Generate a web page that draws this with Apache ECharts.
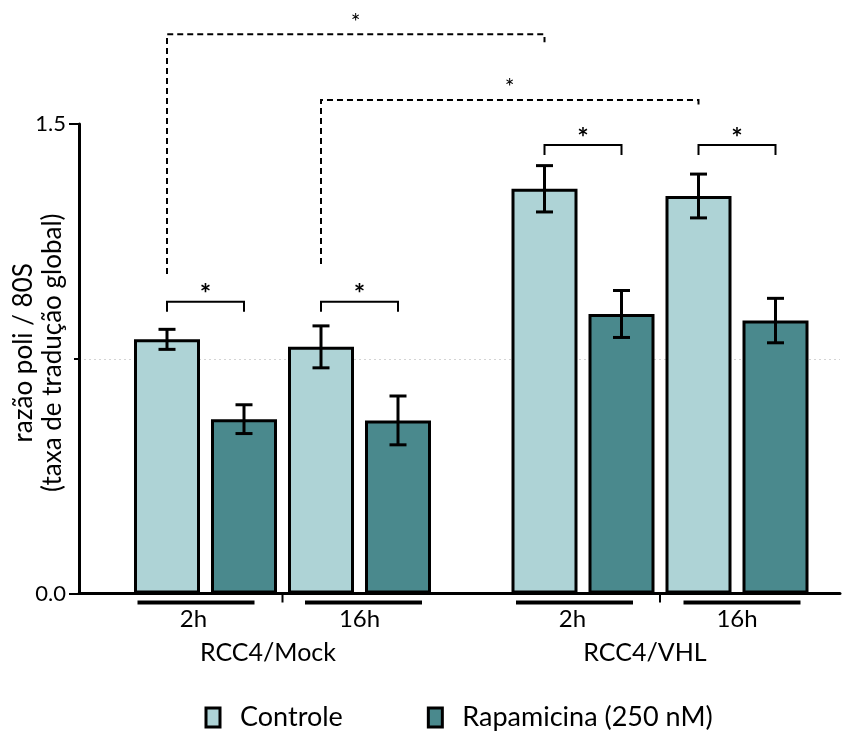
<!DOCTYPE html>
<html>
<head>
<meta charset="utf-8">
<script src="https://cdn.jsdelivr.net/npm/echarts@6/dist/echarts.min.js"></script>
<style>
  html, body { margin: 0; padding: 0; background: #fff; }
  #chart { width: 856px; height: 733px; }
</style>
</head>
<body>
<div id="chart"></div>
<script>
// ---- data ----
const cellLines = ['RCC4/Mock', 'RCC4/VHL'];
const timePoints = ['2h', '16h'];
const seriesNames = ['Controle', 'Rapamicina (250 nM)'];

// mean polysome / 80S ratio (per time point)
const controleMock = [0.812, 0.788];
const rapaMock = [0.557, 0.553];
const controleVHL = [1.293, 1.270];
const rapaVHL = [0.893, 0.872];

// error bars (per time point)
const controleMockErr = [0.032, 0.067];
const rapaMockErr = [0.046, 0.078];
const controleVHLErr = [0.074, 0.070];
const rapaVHLErr = [0.075, 0.071];

// y axis
const yMin = 0;
const yMax = 1.5;
const yStep = 1.5;

// significance: Controle vs Rapamicina within each time point
const pairTests = [
  { line: 0, time: 0, level: 0.932, mark: '*' },
  { line: 0, time: 1, level: 0.932, mark: '*' },
  { line: 1, time: 0, level: 1.433, mark: '*' },
  { line: 1, time: 1, level: 1.433, mark: '*' }
];
// significance: Controle Mock vs Controle VHL (same time point)
const crossTests = [
  { time: 0, level: 1.787, start: 1.021, mark: '*' },
  { time: 1, level: 1.577, start: 1.053, mark: '*' }
];

// ---- style ----
const FONT = 'Lato';
const COLORS = ['#aed3d6', '#4a898d'];
const BAR_W = 66;
const BAR_SPACE = 11;
const GRID_TOP = 124;
const GRID_BOTTOM = 139.5;
const CAT_W = 154;
// shifts of the underline (u) and time label (t) from the category centre
const labelShift = [
  [{ u: -9.5, t: -12 }, { u: 4, t: 0 }],
  [{ u: -8.5, t: -10.5 }, { u: 5, t: 0 }]
];
const nameShift = [29, 30];

const seriesByLine = [
  [controleMock, rapaMock],
  [controleVHL, rapaVHL]
];
const errByLine = [
  [controleMockErr, rapaMockErr],
  [controleVHLErr, rapaVHLErr]
];

const chart = echarts.init(document.getElementById('chart'), null, { renderer: 'canvas' });

function spacerRich() {
  const r = {};
  for (let w = 1; w <= 40; w++) r['s' + w] = { width: w, height: 1, align: 'center' };
  return r;
}
function shifted(token, shift) {
  const w = Math.round(Math.abs(shift) * 2);
  if (!w) return token;
  return shift < 0 ? token + '{s' + w + '|}' : '{s' + w + '|}' + token;
}

const grids = [
  { left: 79, right: 16, top: GRID_TOP, bottom: GRID_BOTTOM },
  { left: 128.5, width: 2 * CAT_W, top: GRID_TOP, bottom: GRID_BOTTOM },
  { left: 506, width: 2 * CAT_W, top: GRID_TOP, bottom: GRID_BOTTOM }
];

const xAxes = [
  {
    gridIndex: 0, type: 'value', min: 0, max: 1,
    axisLine: { show: true, lineStyle: { color: '#000', width: 3 } },
    axisTick: { show: false }, axisLabel: { show: false }, splitLine: { show: false }
  }
];
const yAxes = [
  {
    gridIndex: 0, type: 'value', min: yMin, max: yMax, interval: yStep,
    name: 'razão poli / 80S\n(taxa de tradução global)',
    nameLocation: 'middle', nameGap: 12, nameMoveOverlap: false,
    nameTextStyle: { fontFamily: FONT, fontSize: 26, lineHeight: 29, color: '#000', padding: [0, 0, 0, 12] },
    axisLine: { show: true, lineStyle: { color: '#000', width: 3 } },
    axisTick: { show: true, length: 10, lineStyle: { color: '#000', width: 2 } },
    minorTick: { show: true, splitNumber: 2, length: 5, lineStyle: { color: '#000', width: 2 } },
    minorSplitLine: { show: true, lineStyle: { color: '#d4d4d4', width: 1, type: [2, 3] } },
    splitLine: { show: false },
    axisLabel: {
      margin: 13, fontFamily: FONT, fontSize: 22, color: '#000',
      formatter: v => v.toFixed(1)
    }
  }
];

const series = [];
cellLines.forEach((line, li) => {
  const g = li + 1;
  xAxes.push({
    gridIndex: g, type: 'category', data: timePoints,
    axisLine: { show: false }, axisTick: { show: false }, splitLine: { show: false },
    name: line, nameLocation: 'middle', nameGap: 47,
    nameTextStyle: {
      fontFamily: FONT, fontSize: 25, lineHeight: 25, color: '#000',
      padding: [0, nameShift[li], 0, 0]
    },
    axisLabel: {
      interval: 0, margin: 7,
      formatter: (v, idx) => {
        const s = labelShift[li][idx];
        return shifted('{u|}', s.u) + '\n' + shifted('{t|' + v + '}', s.t);
      },
      rich: Object.assign({
        u: { width: 117, height: 4, lineHeight: 4, backgroundColor: '#000', align: 'center' },
        t: { fontFamily: FONT, fontSize: 24, lineHeight: 30, color: '#000', align: 'center' }
      }, spacerRich())
    }
  });
  yAxes.push({ gridIndex: g, type: 'value', min: yMin, max: yMax, interval: yStep, show: false });

  seriesNames.forEach((name, si) => {
    series.push({
      name, type: 'bar', xAxisIndex: g, yAxisIndex: g,
      data: seriesByLine[li][si],
      barWidth: BAR_W, barGap: (BAR_SPACE / BAR_W * 100) + '%',
      itemStyle: { color: COLORS[si], borderColor: '#000', borderWidth: 3 },
      z: 2
    });
  });

  const errData = [];
  seriesNames.forEach((name, si) => {
    seriesByLine[li][si].forEach((v, ti) => errData.push([ti, v, errByLine[li][si][ti], si]));
  });
  series.push({
    type: 'custom', name: 'err-' + li, xAxisIndex: g, yAxisIndex: g,
    encode: { x: 0, y: 1 }, data: errData, z: 5, silent: true,
    renderItem: (params, api) => {
      const ti = api.value(0), v = api.value(1), e = api.value(2), si = api.value(3);
      const x = api.coord([ti, v])[0] + (si === 0 ? -1 : 1) * (BAR_W + BAR_SPACE) / 2;
      const yt = api.coord([ti, v + e])[1];
      const yb = api.coord([ti, v - e])[1];
      const st = { stroke: '#000', lineWidth: 3 };
      const cw = 8.5;
      return {
        type: 'group',
        children: [
          { type: 'line', shape: { x1: x, y1: yt, x2: x, y2: yb }, style: st },
          { type: 'line', shape: { x1: x - cw, y1: yt, x2: x + cw, y2: yt }, style: st },
          { type: 'line', shape: { x1: x - cw, y1: yb, x2: x + cw, y2: yb }, style: st }
        ]
      };
    }
  });
});

const option = {
  animation: false,
  backgroundColor: '#fff',
  textStyle: { fontFamily: FONT },
  grid: grids.map(g => Object.assign({ containLabel: false, outerBoundsMode: 'none' }, g)),
  xAxis: xAxes,
  yAxis: yAxes,
  legend: {
    data: seriesNames,
    left: 204.5, top: 704, padding: 0,
    icon: 'rect', itemWidth: 14, itemHeight: 19, itemGap: 84,
    itemStyle: { borderColor: '#000', borderWidth: 3 },
    textStyle: { fontFamily: FONT, fontSize: 27, color: '#000', padding: [0, 0, 0, 15] }
  },
  series
};
chart.setOption(option);

// ---- significance brackets and group ticks, placed through the axes ----
function barX(line, time, s) {
  const c = chart.convertToPixel({ xAxisIndex: line + 1 }, time);
  return c + (s === 0 ? -1 : 1) * (BAR_W + BAR_SPACE) / 2;
}
function yPx(v) { return chart.convertToPixel({ yAxisIndex: 0 }, v); }

const graphics = [];
function star(x, y, size, bold) {
  graphics.push({
    type: 'text', x, y, z: 10, silent: true,
    style: {
      text: '*', font: (bold ? 'bold ' : '') + size + 'px ' + FONT,
      fill: '#000', align: 'center', verticalAlign: 'middle'
    }
  });
}

pairTests.forEach(t => {
  const x1 = barX(t.line, t.time, 0), x2 = barX(t.line, t.time, 1);
  const y = yPx(t.level);
  graphics.push({
    type: 'polyline', z: 10, silent: true,
    shape: { points: [[x1, y + 10], [x1, y], [x2, y], [x2, y + 10]] },
    style: { stroke: '#000', lineWidth: 2, fill: null }
  });
  star((x1 + x2) / 2, y - 7, 27, true);
});

crossTests.forEach(t => {
  const x1 = barX(0, t.time, 0), x2 = barX(1, t.time, 0);
  const y = yPx(t.level), y0 = yPx(t.start);
  graphics.push({
    type: 'polyline', z: 10, silent: true,
    shape: { points: [[x1, y0], [x1, y], [x2, y], [x2, y + 8]] },
    style: { stroke: '#000', lineWidth: 2, fill: null, lineDash: [6, 4] }
  });
  star((x1 + x2) / 2, y - 12, 23, false);
});

// tick between the two time points of each cell line
const baseY = yPx(0);
cellLines.forEach((line, li) => {
  const xm = (chart.convertToPixel({ xAxisIndex: li + 1 }, 0) + chart.convertToPixel({ xAxisIndex: li + 1 }, 1)) / 2;
  graphics.push({
    type: 'line', z: 10, silent: true,
    shape: { x1: xm, y1: baseY, x2: xm, y2: baseY + 9 },
    style: { stroke: '#000', lineWidth: 2 }
  });
});

chart.setOption({ graphic: graphics });
</script>
</body>
</html>
